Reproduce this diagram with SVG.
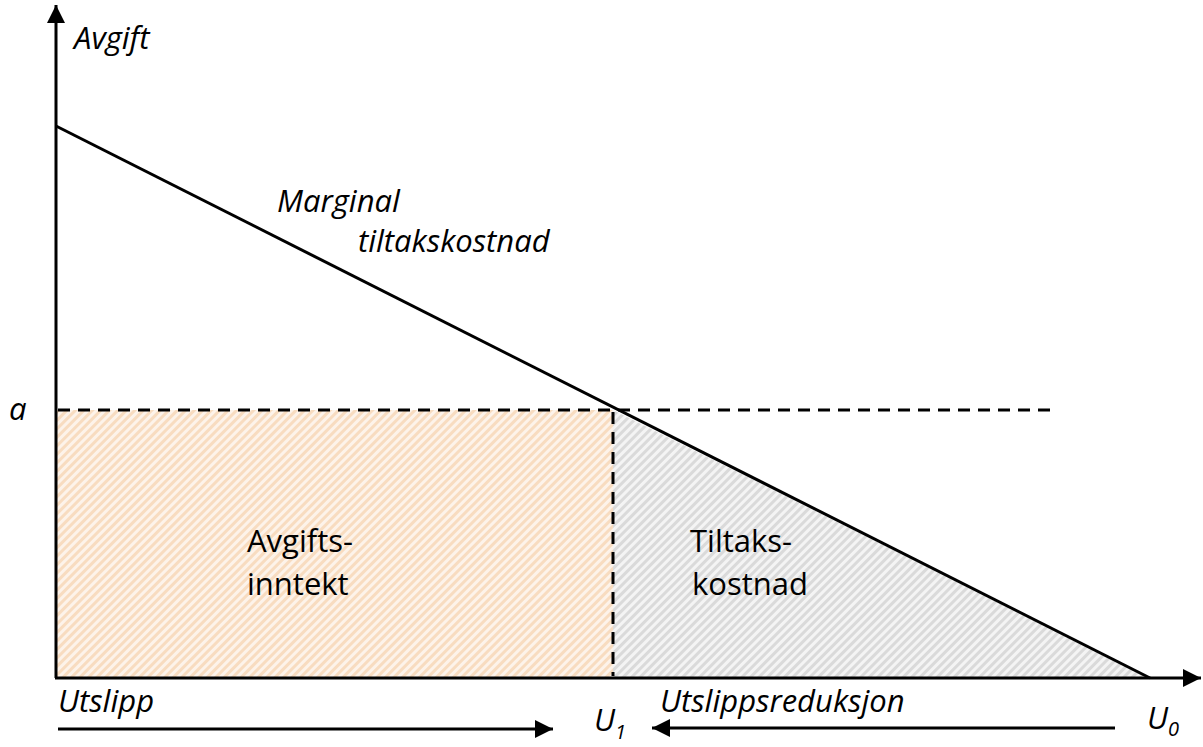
<svg xmlns="http://www.w3.org/2000/svg" width="1203" height="747" viewBox="0 0 1203 747">
<defs>
<pattern id="hOrange" patternUnits="userSpaceOnUse" width="6" height="6" patternTransform="rotate(45)">
<rect width="6" height="6" fill="#fdf3ea"/>
<rect width="3" height="6" fill="#f8dcc0"/>
</pattern>
<pattern id="hGray" patternUnits="userSpaceOnUse" width="6" height="6" patternTransform="rotate(45)">
<rect width="6" height="6" fill="#f4f4f4"/>
<rect width="3" height="6" fill="#dadada"/>
</pattern>
<marker id="arr" markerUnits="userSpaceOnUse" markerWidth="20" markerHeight="18" refX="18" refY="9" orient="auto">
<path d="M0,0 L18,9 L0,18 Z" fill="#000"/>
</marker>
</defs>
<style>
.ax{stroke:#000;stroke-width:3;fill:none}
.ln{stroke:#000;stroke-width:3;fill:none}
.dash{stroke:#000;stroke-width:3;stroke-dasharray:12,8;fill:none}
.it{font-family:"Open Sans","Noto Sans",sans-serif;font-style:italic;font-size:31px;fill:#000}
.nm{font-family:"Open Sans","Noto Sans",sans-serif;font-size:31px;fill:#000}
</style>
<g id="areas">
<rect id="avgiftsinntekt-area" x="56" y="410" width="557" height="268" fill="url(#hOrange)"/>
<polygon id="tiltakskostnad-area" points="613,410 1150,678 613,678" fill="url(#hGray)"/>
</g>
<g id="connectors">
<line class="ax" x1="56" y1="678" x2="56" y2="5" marker-end="url(#arr)"/>
<line class="ax" x1="55" y1="678" x2="1201" y2="678" marker-end="url(#arr)"/>
<line class="ln" x1="56" y1="126" x2="1150" y2="678"/>
<line class="dash" x1="58" y1="410" x2="1057" y2="410"/>
<line class="dash" x1="613" y1="412" x2="613" y2="676"/>
<line class="ax" x1="58" y1="729" x2="553" y2="729" marker-end="url(#arr)"/>
<line class="ax" x1="1115" y1="728" x2="652" y2="728" marker-end="url(#arr)"/>
</g>
<g id="labels">
<text class="it" x="74" y="49">Avgift</text>
<text class="it" x="277" y="212">Marginal</text>
<text class="it" x="358" y="252">tiltakskostnad</text>
<text class="it" x="9" y="420">a</text>
<text class="nm" x="247" y="552">Avgifts-</text>
<text class="nm" x="247" y="595">inntekt</text>
<text class="nm" x="690" y="552">Tiltaks-</text>
<text class="nm" x="692" y="595">kostnad</text>
<text class="it" x="58" y="712">Utslipp</text>
<text class="it" x="660" y="712">Utslippsreduksjon</text>
<text class="it" x="594" y="731">U<tspan font-size="20" dy="8">1</tspan></text>
<text class="it" x="1147" y="729">U<tspan font-size="20" dy="7">0</tspan></text>
</g>
</svg>
